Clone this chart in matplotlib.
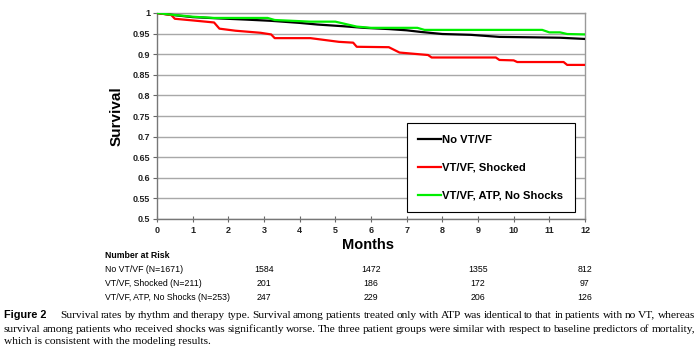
import matplotlib
matplotlib.use("Agg")
import matplotlib.pyplot as plt
from matplotlib.transforms import blended_transform_factory

# survival curves (months, survival)
no_vt_months = [0, 0.35, 1.0, 1.7, 2.5, 3.2, 4.0, 4.5, 5.2, 5.8, 6.5, 7.0, 7.4, 8.0, 8.8, 9.6, 10.5, 11.3, 12]
no_vt_surv = [1.0, 0.996, 0.99, 0.987, 0.984, 0.981, 0.976, 0.972, 0.968, 0.964, 0.961, 0.958, 0.954,
              0.949, 0.947, 0.942, 0.941, 0.940, 0.937]

shocked_months = [0, 0.4, 0.5, 1.0, 1.6, 1.75, 2.2, 2.9, 3.2, 3.3, 4.3, 5.1, 5.5, 5.6, 6.5, 6.8, 7.6,
                  7.7, 9.5, 9.6, 10.0, 10.1, 11.4, 11.5, 12]
shocked_surv = [1.0, 0.995, 0.986, 0.982, 0.977, 0.962, 0.957, 0.952, 0.948, 0.939, 0.939, 0.93, 0.928,
                0.918, 0.917, 0.904, 0.898, 0.892, 0.892, 0.886, 0.885, 0.881, 0.881, 0.874, 0.874]

atp_months = [0, 0.4, 1.0, 1.6, 2.5, 3.1, 3.3, 4.3, 5.0, 5.2, 5.6, 6.0, 7.3, 7.5, 10.8, 11.0, 11.3, 11.5, 12]
atp_surv = [1.0, 0.996, 0.991, 0.988, 0.988, 0.988, 0.983, 0.979, 0.979, 0.975, 0.967, 0.964, 0.964,
            0.959, 0.959, 0.953, 0.953, 0.949, 0.948]

labels = ["No VT/VF", "VT/VF, Shocked", "VT/VF, ATP, No Shocks"]
colors = ["#000000", "#ff0000", "#00ee00"]

# number at risk table
risk_months = [3, 6, 9, 12]
risk_rows = ["No VT/VF (N=1671)", "VT/VF, Shocked (N=211)", "VT/VF, ATP, No Shocks (N=253)"]
risk_counts = [[1584, 1472, 1355, 812],
               [201, 186, 172, 97],
               [247, 229, 206, 126]]

caption_lines = [
    "Survival rates by rhythm and therapy type. Survival among patients treated only with ATP was identical to that in patients with no VT, whereas",
    "survival among patients who received shocks was significantly worse. The three patient groups were similar with respect to baseline predictors of mortality,",
    "which is consistent with the modeling results.",
]

W, H = 700, 350
sans = "Liberation Sans"
serif = "Liberation Serif"

fig = plt.figure(figsize=(7, 3.5), dpi=100)
ax = fig.add_axes([157 / W, 1 - 219 / H, (585 - 157) / W, (219 - 13) / H])


def fx(px):
    return px / W


def fy(py):
    return 1 - py / H


ax.plot(no_vt_months, no_vt_surv, color=colors[0], lw=1.6, label=labels[0], zorder=3)
ax.plot(shocked_months, shocked_surv, color=colors[1], lw=1.6, label=labels[1], zorder=3)
ax.plot(atp_months, atp_surv, color=colors[2], lw=1.6, label=labels[2], zorder=4)

ax.set_xlim(0, 12)
ax.set_ylim(0.5, 1.0)
ax.set_xticks(range(13))
ax.set_yticks([0.5 + 0.05 * i for i in range(11)])
ax.set_yticklabels(["0.5", "0.55", "0.6", "0.65", "0.7", "0.75", "0.8", "0.85", "0.9", "0.95", "1"])
for t in ax.get_xticklabels() + ax.get_yticklabels():
    t.set_fontfamily(sans)
    t.set_fontweight("bold")
    t.set_fontsize(6.5)
    t.set_color("#222222")
ax.tick_params(axis="x", direction="inout", length=4, width=0.8, color="#666666", pad=3)
ax.tick_params(axis="y", direction="out", length=3, width=0.8, color="#666666", pad=2)

ax.grid(axis="y", color="#a8a8a8", lw=1.0)
ax.set_axisbelow(True)
for s in ["top", "right"]:
    ax.spines[s].set_color("#999999")
    ax.spines[s].set_linewidth(1.0)
for s in ["left", "bottom"]:
    ax.spines[s].set_color("#777777")
    ax.spines[s].set_linewidth(1.0)

ax.set_ylabel("Survival", fontfamily=sans, fontweight="bold", fontsize=11)
ax.yaxis.set_label_coords((124 - 157) / 428, 0.5)
ax.set_xlabel("Months", fontfamily=sans, fontweight="bold", fontsize=10.5)
ax.xaxis.set_label_coords((368 - 157) / 428, (219 - 238) / 206)

leg = ax.legend(loc="lower left", bbox_to_anchor=((407 - 157) / 428, (219 - 212) / 206),
                prop={"family": sans, "weight": "bold", "size": 8.1},
                handlelength=2.0, handletextpad=0.15, labelspacing=1.6,
                borderpad=1.0, borderaxespad=0, fancybox=False, framealpha=1)
leg.get_frame().set_edgecolor("#000000")
leg.get_frame().set_linewidth(0.8)

# number at risk
fig.text(fx(105), fy(255), "Number at Risk", fontfamily=sans, fontweight="bold", fontsize=6.3,
         ha="left", va="center")
row_y = [269, 283, 298]
trans = blended_transform_factory(ax.transData, fig.transFigure)
for r, name in enumerate(risk_rows):
    fig.text(fx(105), fy(row_y[r]), name, fontfamily=sans, fontsize=6.3, ha="left", va="center")
    for m, n in zip(risk_months, risk_counts[r]):
        fig.text(m, fy(row_y[r]), str(n), transform=trans, fontfamily=sans, fontsize=6.3,
                 ha="center", va="center")

# caption
fig.text(fx(4), fy(315), "Figure 2", fontfamily=sans, fontweight="bold", fontsize=7.8,
         ha="left", va="center")

renderer = fig.canvas.get_renderer()


def justify(line, x0, x1, y, size):
    words = line.split(" ")
    texts = [fig.text(0, fy(y), w, fontfamily=serif, fontsize=size, ha="left", va="center")
             for w in words]
    widths = [t.get_window_extent(renderer).width for t in texts]
    gap = (x1 - x0 - sum(widths)) / (len(words) - 1)
    x = x0
    for t, w in zip(texts, widths):
        t.set_x(fx(x))
        x += w + gap


cap_size = 8.2
justify(caption_lines[0], 60, 695, 315, cap_size)
justify(caption_lines[1], 4, 695, 329, cap_size)
fig.text(fx(4), fy(342), caption_lines[2], fontfamily=serif, fontsize=cap_size, ha="left", va="center")

fig.savefig("out.png", dpi=100, facecolor="white")
